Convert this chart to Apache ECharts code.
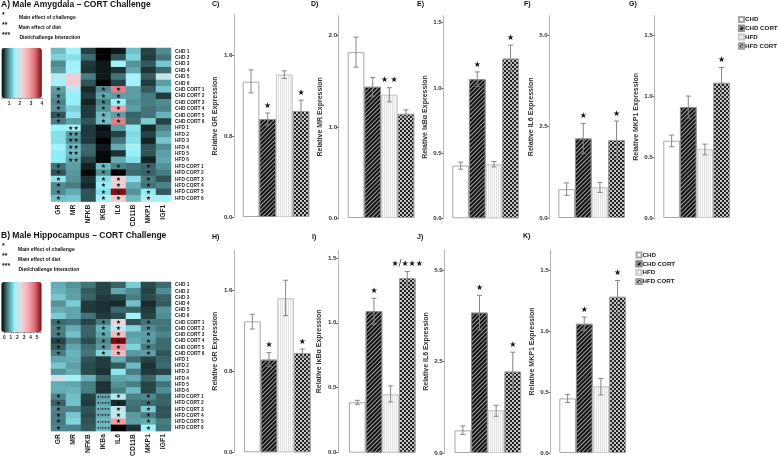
<!DOCTYPE html>
<html><head><meta charset="utf-8">
<style>html,body{margin:0;padding:0;background:#fff}#c{width:778px;height:459px}</style>
<script src="https://cdn.jsdelivr.net/npm/echarts@6/dist/echarts.min.js"></script>
</head><body><div id="c"></div>
<script>
const groups = ['CHD','CHD CORT','HFD','HFD CORT'];
const genes = ['GR','MR','NFKB','IKBa','IL6','CD11B','MKP1','IGF1'];
const samples = ['CHD 1','CHD 2','CHD 3','CHD 4','CHD 5','CHD 6','CHD CORT 1','CHD CORT 2','CHD CORT 3','CHD CORT 4','CHD CORT 5','CHD CORT 6','HFD 1','HFD 2','HFD 3','HFD 4','HFD 5','HFD 6','HFD CORT 1','HFD CORT 2','HFD CORT 3','HFD CORT 4','HFD CORT 5','HFD CORT 6'];

const heatAmygdala = [
[1.20,1.63,.61,.32,.43,1.23,.61,.94],[1.34,1.42,.79,.32,.69,1.34,.58,.83],[.94,1.60,.58,.43,1.63,.98,.72,1.27],[1.05,1.63,.54,.43,.54,1.09,.54,.79],[1.74,2.25,.87,.43,.83,1.67,.72,1.89],[1.63,2.3,.69,.32,.61,1.63,.58,1.05],
[1.05,1.78,.50,.94,3.17,1.05,.72,1.27],[.98,1.52,.58,1.09,1.05,1.05,.87,.58],[.90,1.52,.47,.90,1.56,.98,.87,.94],[.98,1.31,.58,1.01,2.88,1.05,.83,.90],[.69,1.45,.58,1.20,1.05,.76,.83,1.16],[.87,1.05,.69,1.23,3.17,.79,1.31,.61],
[1.56,1.63,.58,.39,1.05,1.45,.50,.90],[1.42,1.05,.58,.43,.61,1.38,.61,1.05],[1.42,.98,.58,.32,.83,1.42,.47,1.27],[1.63,1.20,.79,.43,1.12,1.67,.69,.94],[1.49,1.20,.76,.36,.54,1.52,.69,1.05],[1.49,1.12,.61,.36,1.12,1.42,.47,1.09],
[.83,1.05,.47,1.20,.90,.83,.76,.98],[.69,1.01,.36,.98,.32,.79,.76,.87],[1.45,.98,.54,1.42,2.25,1.42,.87,.69],[.94,.87,.50,1.52,2.3,1.12,.83,.90],[.94,1.12,.69,1.42,3.97,.98,1.49,.72],[1.23,1.27,.69,1.67,2.3,1.20,1.78,1.63]];
const heatHippocampus = [
[1.25,1.03,.80,.46,.68,1.54,.51,.74],[1.31,1.14,.63,.46,1.20,.97,.46,.97],[1.48,1.14,.68,.40,.46,.86,.51,.68],[1.03,1.54,.40,.34,.29,1.43,.29,.63],[1.25,1.20,.40,.34,.74,.68,.40,1.03],[1.54,1.20,.80,.40,.51,2.05,.46,.97],
[.74,.80,.46,.86,2.8,.57,.80,.80],[.86,1.25,.68,1.31,2.39,1.60,.97,.80],[.86,1.43,.68,1.20,3.42,1.14,1.14,.91],[.46,.91,.51,.97,5.70,1.25,1.08,.74],[.63,1.20,.74,1.08,4.10,1.60,.86,.74],[.86,1.31,.80,1.60,3.42,1.08,1.14,.57],
[1.20,1.25,.57,.40,1.25,.74,.46,.68],[1.48,1.14,.51,.40,.63,1.37,.34,.74],[1.03,1.25,.51,.34,1.77,.86,.40,.46],[2.51,2.05,1.31,.68,1.20,1.25,.68,1.25],[1.25,1.20,.86,.34,1.03,.86,.46,.80],[1.25,1.31,.86,.34,.86,1.37,.46,.97],
[.91,1.43,.46,1.20,2.22,.91,.97,.68],[.68,1.43,.40,1.25,.29,.80,.74,.68],[.91,.91,.57,1.31,2.34,.74,1.54,.57],[.86,1.48,.51,1.25,2.34,1.08,.86,.57],[.86,1.60,.57,1.37,3.99,1.14,1.25,.86],[.91,.91,.63,1.37,0,.34,2.00,.80]];
const starsAmygdala = {GR:[6,7,8,9,10,11,18,19,20,21,22,23],IKBa:[6,7,8,9,10,11,18,19,20,21,22,23],IL6:[6,7,8,9,10,11,18,19,20,21,22,23],MKP1:[18,19,20,21,22,23]};
const doubleAmygdala = {MR:[12,13,14,15,16,17]};
const starsHippocampus = {GR:[6,7,8,9,10,11,18,19,20,21,22,23],IKBa:[6,7,8,9,10,11],IL6:[6,7,8,9,10,11,18,19,20,21,22,23],MKP1:[6,7,8,9,10,11,18,19,20,21,22,23]};
const mixedHippocampus = {IKBa:[18,19,20,21,22,23]};

// value, error high, error low for CHD, CHD CORT, HFD, HFD CORT
const grA = [1.34,.97,1.41,1.05], grAHi = [1.457,1.03,1.447,1.156], grALo = [1.229,.91,1.371,.945], grAStars = ['','★','','★'];
const mrA = [1.82,1.44,1.352,1.143], mrAHi = [1.985,1.542,1.43,1.187], mrALo = [1.656,1.337,1.275,1.10], mrAStars = ['','','★ ★',''];
const ikbA = [.404,1.066,.414,1.224], ikbAHi = [.43,1.122,.435,1.327], ikbALo = [.376,1.01,.394,1.122], ikbAStars = ['','★','','★'];
const il6A = [.79,2.18,.84,2.135], il6AHi = [.96,2.59,.976,2.655], il6ALo = [.62,1.77,.70,1.615], il6AStars = ['','★','','★'];
const mkpA = [.636,.912,.567,1.112], mkpAHi = [.682,1.003,.608,1.238], mkpALo = [.586,.822,.52,.986], mkpAStars = ['','','','★'];
const grH = [1.29,.913,1.517,.979], grHHi = [1.36,.982,1.695,1.018], grHLo = [1.215,.844,1.346,.939], grHStars = ['','★','','★'];
const ikbH = [.388,1.089,.449,1.343], ikbHHi = [.403,1.189,.514,1.394], ikbHLo = [.372,.989,.39,1.292], ikbHStars = ['','★','','★/★★★'];
const il6H = [.62,3.845,1.17,2.23], il6HHi = [.74,4.32,1.306,2.76], il6HLo = [.51,3.37,1.005,1.70], il6HStars = ['','★','','★'];
const mkpH = [.449,1.063,.548,1.285], mkpHHi = [.482,1.118,.614,1.419], mkpHLo = [.416,1.008,.477,1.145], mkpHStars = ['','★','','★'];

const panels = [
 {n:'Relative GR Expression',v:grA,hi:grAHi,lo:grALo,s:grAStars,ticks:[0,.8,1.6],max:2.0,bars:242.7,axis:234,top:15,h:202},
 {n:'Relative MR Expression',v:mrA,hi:mrAHi,lo:mrALo,s:mrAStars,ticks:[0,1,2],max:2.22,bars:347.7,axis:338.7,top:15.7,h:202.3},
 {n:'Relative IκBα Expression',v:ikbA,hi:ikbAHi,lo:ikbALo,s:ikbAStars,ticks:[0,.5,1,1.5],max:1.553,bars:452.3,axis:443.3,top:15.7,h:202.6},
 {n:'Relative IL6 Expression',v:il6A,hi:il6AHi,lo:il6ALo,s:il6AStars,ticks:[0,2.5,5],max:5.54,bars:558.3,axis:549.3,top:15.7,h:202.3},
 {n:'Relative MKP1 Expression',v:mkpA,hi:mkpAHi,lo:mkpALo,s:mkpAStars,ticks:[0,.5,1,1.5],max:1.664,bars:663.3,axis:654.3,top:15.7,h:202.3},
 {n:'Relative GR Expression',v:grH,hi:grHHi,lo:grHLo,s:grHStars,ticks:[0,.8,1.6],max:1.993,bars:244,axis:234,top:250,h:202.3},
 {n:'Relative IκBα Expression',v:ikbH,hi:ikbHHi,lo:ikbHLo,s:ikbHStars,ticks:[0,.5,1,1.5],max:1.56,bars:349,axis:338,top:250,h:202.7},
 {n:'Relative IL6 Expression',v:il6H,hi:il6HHi,lo:il6HLo,s:il6HStars,ticks:[0,2.5,5],max:5.56,bars:454.5,axis:444.3,top:250,h:203},
 {n:'Relative MKP1 Expression',v:mkpH,hi:mkpHHi,lo:mkpHLo,s:mkpHStars,ticks:[0,.5,1,1.5],max:1.67,bars:559.3,axis:550.3,top:250,h:203}
];

const SANS = '"Liberation Sans", Arial, sans-serif';
const GREY = '#b4b4b4';
const barStyles = [
 {color:'#fff',borderColor:'#a8a8a8',borderWidth:1},
 {color:'#a0a0a0',borderColor:'#8f8f8f',borderWidth:1,decal:{symbol:'rect',color:'#111',dashArrayX:[1,0],dashArrayY:[1.5,1],rotation:-Math.PI/4,symbolSize:1}},
 {color:'#fbfbfb',borderColor:'#cdcdcd',borderWidth:1,decal:{symbol:'rect',color:'#e2e2e2',dashArrayX:[1,1],dashArrayY:[1,0],rotation:0,symbolSize:1}},
 {color:'#c4c4c4',borderColor:'#a0a0a0',borderWidth:1,decal:{symbol:'rect',color:'#222',dashArrayX:[[1.5,1.5],[0,1.5,1.5,0]],dashArrayY:[1.5,0],rotation:0,symbolSize:1}}
];
const colorStops = ['#000000','#4f8a90','#98f5ff','#ecd6dc','#f8a8b0','#d86a70','#7a0c10'];

const grid=[], xAxis=[], yAxis=[], series=[], title=[], visualMap=[];

function text(str,x,yc,size,weight,color){
  title.push({text:str,left:x,top:yc-size/2-0.5,padding:0,textStyle:{fontFamily:SANS,fontSize:size,fontWeight:weight||'bold',color:color||'#111',lineHeight:size+1}});
}
text('A) Male Amygdala – CORT Challenge',1,4.5,8.5);
text('B) Male Hippocampus – CORT Challenge',1,235.7,8.5);
[['*',2,15.5],['Main effect of challenge',19,17.5],['**',2,25],['Main effect of diet',18.5,27.5],['***',2,35],['Diet/challenge Interaction',19.5,38],
 ['*',2,246],['Main effect of challenge',18,249.3],['**',2,256],['Main effect of diet',18,259.3],['***',2,266],['Diet/challenge Interaction',18.5,269.7]]
 .forEach(t=>text(t[0],t[1],t[2],t[0][0]==='*'?7:5));
[['C)',212,3.8],['D)',311,3.8],['E)',417,3.8],['F)',524,3.8],['G)',629,3.8],['H)',212,237],['I)',312,237],['J)',417,237.5],['K)',523,236]]
 .forEach(t=>text(t[0],t[1],t[2],7));

panels.forEach(p=>{
  const g=grid.length;
  grid.push({left:p.bars,top:p.top,width:66.6,height:p.h});
  xAxis.push({type:'category',gridIndex:g,data:groups,axisLine:{show:false},axisTick:{show:false},axisLabel:{show:false},splitLine:{show:false}});
  yAxis.push({type:'value',gridIndex:g,min:0,max:p.max,offset:p.bars-p.axis,
    name:p.n,nameLocation:'middle',nameGap:15,nameTextStyle:{fontFamily:SANS,fontSize:7,fontWeight:'bold',color:'#333'},
    axisLine:{show:true,lineStyle:{color:GREY,width:1}},
    axisTick:{show:true,length:2,lineStyle:{color:'#777'},customValues:p.ticks},
    axisLabel:{fontFamily:SANS,fontSize:6.2,fontWeight:'bold',color:'#333',margin:1.5,customValues:p.ticks,formatter:v=>v.toFixed(1)},
    splitLine:{show:false}});
  groups.forEach((name,i)=>{
    series.push({type:'bar',name,xAxisIndex:g,yAxisIndex:g,stack:'s'+g,barWidth:'100%',silent:true,
      data:groups.map((_,j)=>j===i?p.v[j]:'-'),itemStyle:barStyles[i]});
  });
  series.push({type:'custom',xAxisIndex:g,yAxisIndex:g,silent:true,z:5,clip:false,
    data:groups.map((_,i)=>[i,p.hi[i],p.lo[i]]),encode:{x:0,y:[1,2]},
    renderItem(params,api){
      const i=api.value(0), a=api.coord([i,api.value(1)]), b=api.coord([i,api.value(2)]);
      const st={stroke:'#858585',lineWidth:1,fill:null};
      const kids=[
        {type:'line',shape:{x1:a[0],y1:a[1],x2:b[0],y2:b[1]},style:st},
        {type:'line',shape:{x1:a[0]-2.5,y1:a[1],x2:a[0]+2.5,y2:a[1]},style:st},
        {type:'line',shape:{x1:b[0]-2.5,y1:b[1],x2:b[0]+2.5,y2:b[1]},style:st}];
      const s=p.s[i];
      if(s) kids.push({type:'text',style:{text:s,x:a[0],y:a[1]-7.5,align:'center',verticalAlign:'middle',font:'8px "DejaVu Sans"',fill:'#111'}});
      return {type:'group',children:kids};
    }});
});

function heat(matrix,top,height,single,multi,multiText,multiSize,vm){
  const g=grid.length, label=(x,y)=>{
    const gene=genes[x];
    if(multi[gene]&&multi[gene].includes(y)) return '{m|'+multiText+'}';
    if(single[gene]&&single[gene].includes(y)) return '{s|★}';
    return '';
  };
  grid.push({left:51,top,width:120,height});
  xAxis.push({type:'category',gridIndex:g,data:genes,position:'bottom',axisLine:{show:false},axisTick:{show:false},splitLine:{show:false},
    axisLabel:{rotate:90,interval:0,fontFamily:SANS,fontSize:6.8,fontWeight:'bold',color:'#222',margin:3}});
  yAxis.push({type:'category',gridIndex:g,data:samples,inverse:true,position:'right',axisLine:{show:false},axisTick:{show:false},splitLine:{show:false},
    axisLabel:{interval:0,fontFamily:SANS,fontSize:4.8,fontWeight:'bold',color:'#222',margin:4}});
  const data=[]; matrix.forEach((r,y)=>r.forEach((v,x)=>data.push([x,y,v])));
  const idx=series.length;
  series.push({type:'heatmap',xAxisIndex:g,yAxisIndex:g,silent:true,data,
    label:{show:true,formatter:q=>label(q.value[0],q.value[1]),
      rich:{s:{fontFamily:'"DejaVu Sans"',fontSize:6,color:'#111'},m:{fontFamily:'"DejaVu Sans"',fontSize:multiSize,color:'#111'}}},
    itemStyle:{borderWidth:0}});
  visualMap.push({type:'continuous',seriesIndex:idx,orient:'horizontal',calculable:false,hoverLink:false,padding:0,
    itemWidth:50,itemHeight:vm.w,inRange:{color:colorStops},left:vm.left,top:vm.top,min:vm.min,max:vm.max});
  const b=grid.length;
  grid.push({left:vm.left,top:vm.top,width:vm.w,height:50});
  xAxis.push({type:'value',gridIndex:b,min:vm.min,max:vm.max,
    axisLine:{show:true,lineStyle:{color:'#666',width:.6}},
    axisTick:{show:true,length:1.5,lineStyle:{color:'#666',width:.6},customValues:vm.ticks},
    axisLabel:{fontFamily:SANS,fontSize:4.8,fontWeight:'bold',color:'#222',margin:3,customValues:vm.ticks},splitLine:{show:false}});
  yAxis.push({type:'value',gridIndex:b,show:false,min:0,max:1});
}
heat(heatAmygdala,48,153.6,starsAmygdala,doubleAmygdala,'★★',6,{left:1.5,top:48,w:40.4,min:.32,max:4,ticks:[1,2,3,4]});
heat(heatHippocampus,282,154,starsHippocampus,mixedHippocampus,'★/★★★',3.4,{left:1.3,top:282,w:40.4,min:0,max:5.7,ticks:[0,1,2,3,4,5]});

const legendBase={orient:'vertical',itemWidth:5,itemHeight:5,itemGap:1.8,padding:0,icon:'rect',data:groups,selectedMode:false,
  textStyle:{fontFamily:SANS,fontSize:6.2,fontWeight:'bold',color:'#222',padding:[0,0,0,-4]}};
const legend=[Object.assign({left:738,top:16},legendBase),Object.assign({left:635.5,top:251.5},legendBase)];

const chart=echarts.init(document.getElementById('c'),null,{renderer:'canvas'});
chart.setOption({animation:false,backgroundColor:'#fff',title,grid,xAxis,yAxis,series,visualMap,legend,tooltip:{show:false}});
</script></body></html>
